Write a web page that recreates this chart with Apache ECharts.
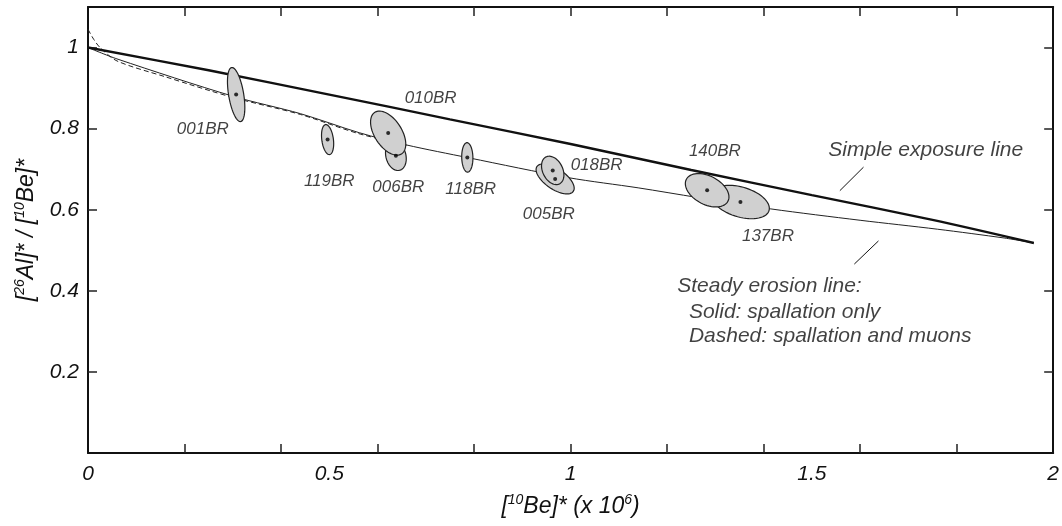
<!DOCTYPE html>
<html>
<head>
<meta charset="utf-8">
<script src="https://cdn.jsdelivr.net/npm/echarts@6/dist/echarts.min.js"></script>
<style>
  html, body { margin: 0; padding: 0; background: #fff; }
  #main { width: 1062px; height: 526px; }
</style>
</head>
<body>
<div id="main"></div>
<script>
var myChart = echarts.init(document.getElementById('main'));

var FONT = 'Liberation Sans, Helvetica, Arial, sans-serif';

// axis ticks / labels
var xTicks = [0.2, 0.4, 0.6, 0.8, 1.0, 1.2, 1.4, 1.6, 1.8];
var xLabels = [0, 0.5, 1, 1.5, 2];
var yTicks = [0.2, 0.4, 0.6, 0.8, 1.0];

// simple exposure line
var exposureBe    = [0, 0.25, 0.5, 0.75, 1.0, 1.25, 1.5, 1.75, 1.96];
var exposureRatio = [1.0, 0.944, 0.884, 0.823, 0.762, 0.698, 0.636, 0.575, 0.518];

// steady erosion line, spallation only (solid)
var erosionBe    = [0, 0.06, 0.30, 0.44, 0.562, 0.659, 0.789, 0.996, 1.14, 1.264, 1.415, 1.60, 1.76, 1.90, 1.96];
var erosionRatio = [1.0, 0.972, 0.880, 0.837, 0.790, 0.760, 0.728, 0.679, 0.654, 0.630, 0.602, 0.574, 0.552, 0.530, 0.518];

// steady erosion line, spallation and muons (dashed)
var muonBe    = [0, 0.012, 0.025, 0.06, 0.16, 0.30, 0.44, 0.56, 0.66];
var muonRatio = [1.045, 1.02, 1.0, 0.967, 0.928, 0.877, 0.835, 0.788, 0.759];

// samples (in drawing order), centre and 1-sigma ellipse
var sampleNames = ['001BR', '119BR', '006BR', '010BR', '118BR', '005BR', '018BR', '137BR', '140BR'];
var sampleBe    = [0.307, 0.4965, 0.638, 0.622, 0.786, 0.968, 0.963, 1.352, 1.283];
var sampleRatio = [0.884, 0.773, 0.733, 0.789, 0.729, 0.676, 0.697, 0.619, 0.648];
var sigmaBe     = [0.0180, 0.0126, 0.0215, 0.0365, 0.0116, 0.0395, 0.0232, 0.0599, 0.0452];
var sigmaRatio  = [0.0667, 0.0370, 0.0363, 0.0543, 0.0363, 0.0370, 0.0350, 0.0412, 0.0412];
var rho         = [-0.48, -0.28, -0.2, -0.5, -0.05, -0.62, -0.32, -0.38, -0.4];

// sample labels
var labelNames = ['001BR', '010BR', '119BR', '006BR', '118BR', '005BR', '018BR', '140BR', '137BR'];
var labelBe    = [0.238, 0.710, 0.500, 0.643, 0.793, 0.955, 1.054, 1.299, 1.409];
var labelRatio = [0.798, 0.876, 0.670, 0.656, 0.651, 0.588, 0.709, 0.744, 0.534];

// notes
var noteLines = ['Steady erosion line:', '  Solid: spallation only', '  Dashed: spallation and muons'];
var noteBe    = [1.221, 1.221, 1.221];
var noteRatio = [0.411, 0.347, 0.287];
var pointerExposure = [[1.607, 0.705], [1.558, 0.647]];
var pointerErosion  = [[1.638, 0.523], [1.588, 0.466]];

function zip(a, b) {
    return a.map(function (v, i) { return [v, b[i]]; });
}

var ellipseData = sampleBe.map(function (v, i) {
    return [v, sampleRatio[i], sigmaBe[i], sigmaRatio[i], rho[i]];
});

function renderEllipse(params, api) {
    var cx = api.value(0), cy = api.value(1);
    var sx = api.value(2), sy = api.value(3), r = api.value(4);
    var q = Math.sqrt(1 - r * r);
    var pts = [];
    for (var k = 0; k < 64; k++) {
        var t = k / 64 * Math.PI * 2;
        pts.push(api.coord([cx + sx * Math.cos(t), cy + sy * (r * Math.cos(t) + q * Math.sin(t))]));
    }
    return {
        type: 'polygon', shape: { points: pts },
        style: { fill: '#d0d0d0', stroke: '#222', lineWidth: 1.2 }
    };
}

var supTxt = {
    t: { fontSize: 23, fontStyle: 'italic', fontFamily: FONT, color: '#111', lineHeight: 28 },
    s: { fontSize: 14, fontStyle: 'italic', fontFamily: FONT, color: '#111', lineHeight: 15, verticalAlign: 'top' }
};

var tickStyle = { inside: true, length: 9, lineStyle: { color: '#222', width: 1.5 } };
var lineStyle = { onZero: false, lineStyle: { color: '#111', width: 2 } };

function axisX(pos, showLabel) {
    return {
        type: 'value', position: pos, min: 0, max: 2,
        axisLine: lineStyle, splitLine: { show: false },
        axisTick: Object.assign({}, tickStyle, { customValues: xTicks }),
        axisLabel: {
            show: showLabel, customValues: xLabels, margin: 11,
            fontSize: 21, fontStyle: 'italic', fontFamily: FONT, color: '#111'
        },
        name: showLabel ? '{t|[}{s|10}{t|Be]* (x 10}{s|6}{t|)}' : '',
        nameLocation: 'middle', nameGap: 40,
        nameTextStyle: { rich: supTxt }
    };
}

function axisY(pos, showLabel) {
    return {
        type: 'value', position: pos, min: 0, max: 1.1,
        axisLine: lineStyle, splitLine: { show: false },
        axisTick: Object.assign({}, tickStyle, { customValues: yTicks }),
        axisLabel: {
            show: showLabel, customValues: yTicks, margin: 9,
            fontSize: 21, fontStyle: 'italic', fontFamily: FONT, color: '#111'
        },
        name: showLabel ? '{t|[}{s|26}{t|Al]* / [}{s|10}{t|Be]*}' : '',
        nameLocation: 'middle', nameGap: 47,
        nameTextStyle: { rich: supTxt }
    };
}

var option = {
    animation: false,
    backgroundColor: '#fff',
    grid: { left: 88, right: 6, top: 7, bottom: 73 },
    xAxis: [axisX('bottom', true), axisX('top', false)],
    yAxis: [axisY('left', true), axisY('right', false)],
    series: [
        {
            name: 'muons', type: 'line', data: zip(muonBe, muonRatio),
            smooth: 0.3, symbol: 'none',
            lineStyle: { color: '#222', width: 1, type: [5, 3] }
        },
        {
            name: 'erosion', type: 'line', data: zip(erosionBe, erosionRatio),
            smooth: 0.3, symbol: 'none',
            lineStyle: { color: '#222', width: 1 }
        },
        {
            name: 'exposure', type: 'line', data: zip(exposureBe, exposureRatio),
            smooth: 0.3, symbol: 'none',
            lineStyle: { color: '#111', width: 2.4 }
        },
        {
            type: 'custom', renderItem: renderEllipse, data: ellipseData, z: 5
        },
        {
            type: 'scatter', data: zip(sampleBe, sampleRatio), z: 6,
            symbol: 'circle', symbolSize: 4,
            itemStyle: { color: '#000' }
        },
        {
            type: 'line', data: pointerExposure, symbol: 'none',
            lineStyle: { color: '#111', width: 1 }
        },
        {
            type: 'line', data: pointerErosion, symbol: 'none',
            lineStyle: { color: '#111', width: 1 }
        },
        {
            type: 'scatter', symbolSize: 0, z: 6,
            data: labelNames.map(function (n, i) {
                return { name: n, value: [labelBe[i], labelRatio[i]] };
            }),
            label: {
                show: true, position: 'inside', formatter: '{b}',
                fontSize: 17, fontStyle: 'italic', fontFamily: FONT, color: '#111'
            }
        },
        {
            type: 'scatter', symbolSize: 0, z: 6,
            data: [{ name: 'Simple exposure line', value: [1.736, 0.746] }],
            label: {
                show: true, position: 'inside', formatter: '{b}',
                fontSize: 21, fontStyle: 'italic', fontFamily: FONT, color: '#111'
            }
        },
        {
            type: 'scatter', symbolSize: 0, z: 6,
            data: noteLines.map(function (n, i) {
                return { name: n, value: [noteBe[i], noteRatio[i]] };
            }),
            label: {
                show: true, position: 'right', distance: 0, formatter: '{b}',
                fontSize: 21, fontStyle: 'italic', fontFamily: FONT, color: '#111'
            }
        }
    ]
};

myChart.setOption(option);
</script>
</body>
</html>
